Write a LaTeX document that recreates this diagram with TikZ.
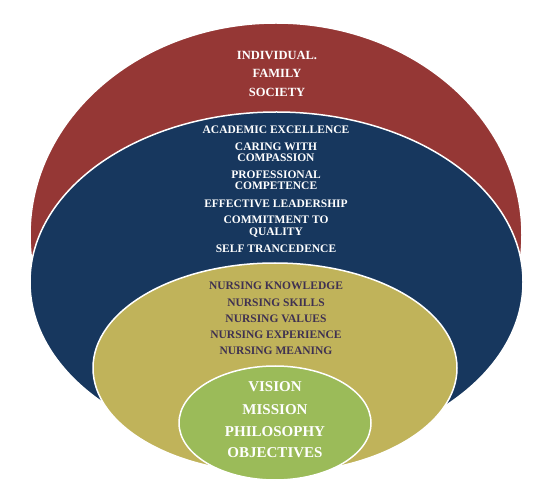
\documentclass[tikz,border=0pt]{standalone}
\usepackage{fontspec}
\setmainfont{Liberation Serif}
\definecolor{redc}{HTML}{953735}
\definecolor{bluec}{HTML}{17375E}
\definecolor{olivec}{HTML}{C0B35A}
\definecolor{greenc}{HTML}{9BBB59}
\definecolor{purplec}{HTML}{3F3151}
\begin{document}
\begin{tikzpicture}[x=1pt,y=-1pt,
  ring/.style={draw=white, line width=1.5pt},
  redtxt/.style={text=white, anchor=base, inner sep=0pt, font=\bfseries\fontsize{12.5}{14}\selectfont},
  bluetxt/.style={text=white, anchor=base, inner sep=0pt, font=\bfseries\fontsize{11.5}{13}\selectfont},
  olivetxt/.style={text=purplec, anchor=base, inner sep=0pt, font=\bfseries\fontsize{11.5}{13}\selectfont},
  greentxt/.style={text=white, anchor=base, inner sep=0pt, font=\bfseries\fontsize{15}{17}\selectfont}]
\useasboundingbox (0,0) rectangle (557,494);
% rings
\filldraw[fill=redc, ring] (276,235) ellipse [x radius=246pt, y radius=212pt];
\filldraw[fill=bluec, ring] (276.5,282) ellipse [x radius=246.5pt, y radius=170pt];
\filldraw[fill=olivec, ring] (275,368) ellipse [x radius=182pt, y radius=105pt];
\filldraw[fill=greenc, ring] (275,423) ellipse [x radius=96pt, y radius=57pt];
% red texts
\node[redtxt] (r1) at (277,59.1) {INDIVIDUAL.};
\node[redtxt] (r2) at (277,77.4) {FAMILY};
\node[redtxt] (r3) at (277,96.4) {SOCIETY};
% blue texts
\node[bluetxt] (b1) at (276,133.1) {ACADEMIC EXCELLENCE};
\node[bluetxt] (b2) at (276,150.5) {CARING WITH};
\node[bluetxt] (b3) at (276,161.5) {COMPASSION};
\node[bluetxt] (b4) at (276,178.8) {PROFESSIONAL};
\node[bluetxt] (b5) at (276,189.8) {COMPETENCE};
\node[bluetxt] (b6) at (276,207.1) {EFFECTIVE LEADERSHIP};
\node[bluetxt] (b7) at (276,223.8) {COMMITMENT TO};
\node[bluetxt] (b8) at (276,235.5) {QUALITY};
\node[bluetxt] (b9) at (276,252.8) {SELF TRANCEDENCE};
% olive texts
\node[olivetxt] (o1) at (276,289.8) {NURSING KNOWLEDGE};
\node[olivetxt] (o2) at (276,306.1) {NURSING SKILLS};
\node[olivetxt] (o3) at (276,322.8) {NURSING VALUES};
\node[olivetxt] (o4) at (276,338.8) {NURSING EXPERIENCE};
\node[olivetxt] (o5) at (276,354.8) {NURSING MEANING};
% green texts
\node[greentxt] (g1) at (275,391.7) {VISION};
\node[greentxt] (g2) at (275,414) {MISSION};
\node[greentxt] (g3) at (275,436) {PHILOSOPHY};
\node[greentxt] (g4) at (275,457.7) {OBJECTIVES};
\end{tikzpicture}
\end{document}
